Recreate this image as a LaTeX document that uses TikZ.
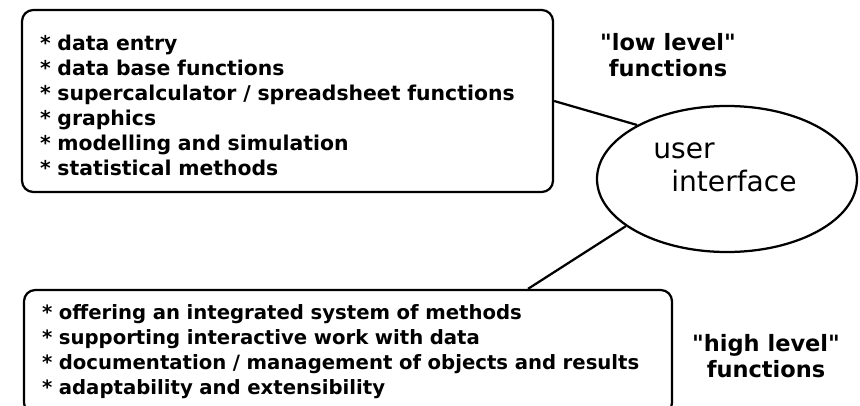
\documentclass[tikz,border=0pt]{standalone}
\usepackage{fontspec}
\setmainfont{DejaVu Sans}
\usetikzlibrary{shapes.geometric, positioning, calc}

\begin{document}
\begin{tikzpicture}[
    funcbox/.style={draw, line width=1.6pt, rounded corners=8pt, align=left, inner xsep=0.45cm, font=\bfseries\fontsize{14.5}{17.8}\selectfont},
    levellabel/.style={align=center, font=\bfseries\fontsize{16}{18}\selectfont},
    link/.style={line width=1.6pt}
]
    % page frame
    \useasboundingbox (0,0) rectangle (21.5,10.125);
    \clip (0,0) rectangle (21.5,10.125);

    % low level functions box
    \node[funcbox, minimum width=13.275cm, minimum height=4.55cm, text width=12.375cm] (lowbox) at (7.1875,7.6) {%
        \rule{0pt}{17pt}{*} data entry\\
        {*} data base functions\\
        {*} supercalculator / spreadsheet functions\\
        {*} graphics\\
        {*} modelling and simulation\\
        {*} statistical methods};

    % high level functions box (runs off the bottom)
    \node[funcbox, font=\bfseries\fontsize{14}{17.8}\selectfont, minimum width=16.2cm, minimum height=3.1cm, text width=15.3cm] (highbox) at (8.7,1.325) {%
        {*} offering an integrated system of methods\\
        {*} supporting interactive work with data\\
        {*} documentation / management of objects and results\\
        {*} adaptability and extensibility};

    % user interface
    \node[ellipse, draw, line width=1.6pt, minimum width=6.5cm, minimum height=3.65cm, inner sep=0pt] (ui) at (18.175,5.65) {};
    \node[font=\fontsize{20}{24}\selectfont, align=left] (uitext) at (18.125,5.94) {user\\\hspace*{0.45cm}interface};

    % level labels
    \node[levellabel] (lowlabel) at (16.7,8.75) {\textquotedbl low level\textquotedbl\\functions};
    \node[levellabel] (highlabel) at (19.15,1.225) {\textquotedbl high level\textquotedbl\\functions};

    % connections
    \draw[link] (lowbox.east) -- (ui.149);
    \draw[link] (ui.205) -- ([xshift=4.5cm]highbox.north);
\end{tikzpicture}
\end{document}
